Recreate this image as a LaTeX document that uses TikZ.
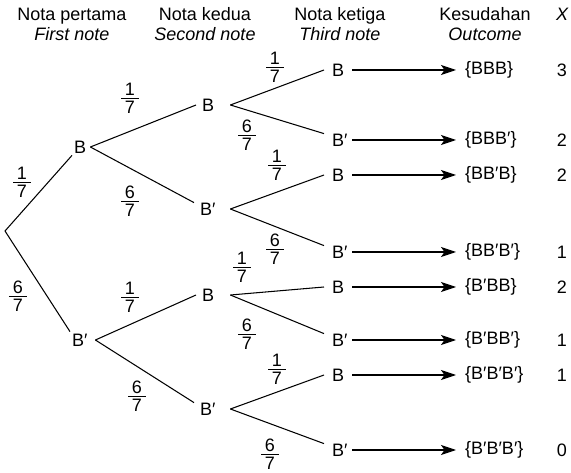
\documentclass[tikz,border=0pt]{standalone}
\usepackage{fontspec}
\setmainfont{Liberation Sans}
\usetikzlibrary{arrows.meta}
\newcommand{\myfr}[2]{\vbox{\hbox to 18pt{\hss#1\hss}\kern2.3pt\hrule height 0.9pt\kern2.3pt\hbox to 18pt{\hss#2\hss}}}
\begin{document}
\begin{tikzpicture}[x=1pt,y=-1pt,
  every node/.style={font=\fontsize{18}{22}\selectfont, inner sep=0pt},
  ln/.style={line width=1.05pt},
  arr/.style={line width=1.05pt, -{Stealth[length=15pt,width=10pt,inset=3.5pt]}},
  lvlone/.style={anchor=west, text width=14pt, align=left, inner xsep=2pt, inner ysep=2pt},
  lvltwo/.style={anchor=west, text width=22pt, align=left, inner xsep=6pt, inner ysep=0pt},
  lvlthree/.style={anchor=west, text width=12pt, align=left, inner xsep=8pt, inner ysep=0pt},
  outc/.style={anchor=west, inner xsep=9pt, inner ysep=0pt},
  hdr/.style={anchor=base},
  xval/.style={anchor=center}]
\useasboundingbox (0,0) rectangle (571,473);
% headers
\node[hdr] (h1a) at (72,21) {Nota pertama};
\node[hdr] (h1b) at (72,41) {\itshape First note};
\node[hdr] (h2a) at (205,21) {Nota kedua};
\node[hdr] (h2b) at (205,41) {\itshape Second note};
\node[hdr] (h3a) at (340,21) {Nota ketiga};
\node[hdr] (h3b) at (340,41) {\itshape Third note};
\node[hdr] (h4a) at (485,21) {Kesudahan};
\node[hdr] (h4b) at (485,41) {\itshape Outcome};
\node[hdr] (h5) at (562,21) {\itshape X};
% tree
\coordinate (root) at (5,231);
\node[lvlone] (l1b) at (72,147) {B};
\node[lvlone, text width=21pt] (l1bp) at (70,340) {B′};
\node[lvltwo] (b2a) at (196,105) {B};
\node[lvltwo, text width=24pt] (b2b) at (194,209) {B′};
\node[lvltwo] (b2c) at (196,295) {B};
\node[lvltwo, text width=24pt] (b2d) at (194,409) {B′};
\node[lvlthree] (c1) at (324,70) {B};
\node[lvlthree] (c2) at (324,140) {B′};
\node[lvlthree] (c3) at (324,175) {B};
\node[lvlthree] (c4) at (324,252) {B′};
\node[lvlthree] (c5) at (324,287) {B};
\node[lvlthree] (c6) at (324,340) {B′};
\node[lvlthree] (c7) at (324,375) {B};
\node[lvlthree] (c8) at (324,450) {B′};
% outcomes
\node[outc] (o1) at (456,70) {\{BBB\}};
\node[outc] (o2) at (456,140) {\{BBB′\}};
\node[outc] (o3) at (456,175) {\{BB′B\}};
\node[outc] (o4) at (456,252) {\{BB′B′\}};
\node[outc] (o5) at (456,287) {\{B′BB\}};
\node[outc] (o6) at (456,340) {\{B′BB′\}};
\node[outc] (o7) at (456,375) {\{B′B′B′\}};
\node[outc] (o8) at (456,450) {\{B′B′B′\}};
% X values
\node[xval] (x1) at (562,70) {3};
\node[xval] (x2) at (562,140) {2};
\node[xval] (x3) at (562,175) {2};
\node[xval] (x4) at (562,252) {1};
\node[xval] (x5) at (562,287) {2};
\node[xval] (x6) at (562,340) {1};
\node[xval] (x7) at (562,375) {1};
\node[xval] (x8) at (562,450) {0};
% branches
\draw[ln] (root) -- (l1b.south west);
\draw[ln] (root) -- (l1bp.north west);
\draw[ln] (l1b.east) -- (b2a.west);
\draw[ln] (l1b.east) -- (b2b.north west);
\draw[ln] (l1bp.east) -- (b2c.west);
\draw[ln] (l1bp.east) -- (b2d.north west);
\draw[ln] (b2a.east) -- (c1.west);
\draw[ln] (b2a.east) -- (c2.north west);
\draw[ln] (b2b.east) -- (c3.west);
\draw[ln] (b2b.east) -- (c4.north west);
\draw[ln] (b2c.east) -- (c5.west);
\draw[ln] (b2c.east) -- (c6.north west);
\draw[ln] (b2d.east) -- (c7.west);
\draw[ln] (b2d.east) -- (c8.north west);
% arrows
\foreach \i in {1,...,8} { \draw[arr] (c\i.east) -- (o\i.west); }
% probabilities
\node (p1) at (22,182) {\myfr{1}{7}};
\node (p2) at (18,296) {\myfr{6}{7}};
\node (p3) at (130,98) {\myfr{1}{7}};
\node (p4) at (130,201) {\myfr{6}{7}};
\node (p5) at (130,297) {\myfr{1}{7}};
\node (p6) at (137,396) {\myfr{6}{7}};
\node (p7) at (275,67) {\myfr{1}{7}};
\node (p8) at (247,135) {\myfr{6}{7}};
\node (p9) at (277,165) {\myfr{1}{7}};
\node (p10) at (275,249) {\myfr{6}{7}};
\node (p11) at (242,267) {\myfr{1}{7}};
\node (p12) at (247,334) {\myfr{6}{7}};
\node (p13) at (277,369) {\myfr{1}{7}};
\node (p14) at (270,454) {\myfr{6}{7}};
\end{tikzpicture}
\end{document}
